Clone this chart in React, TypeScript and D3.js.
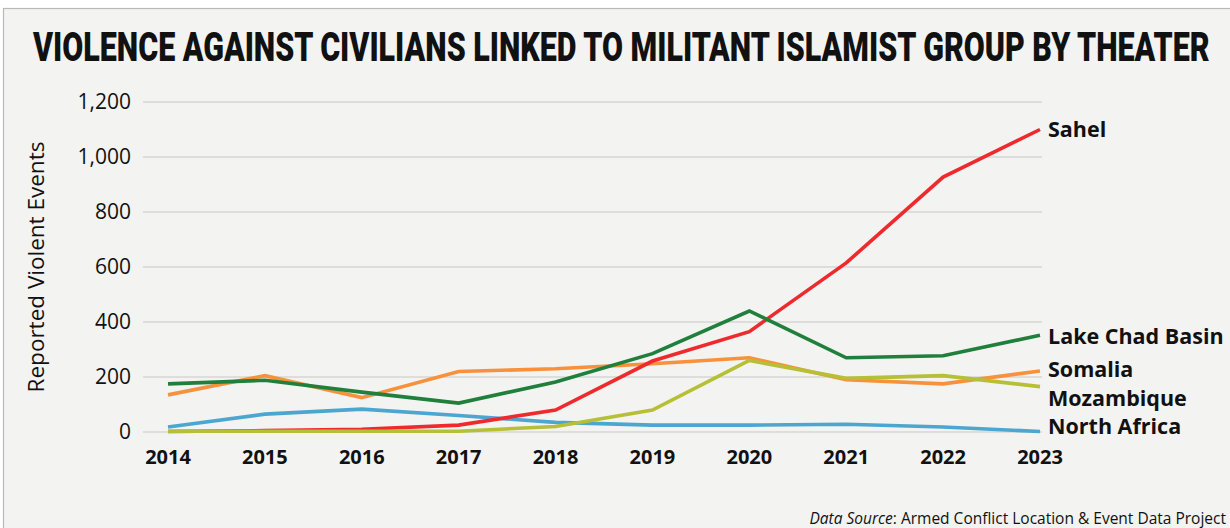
import React, { useEffect, useRef } from 'react';
import * as d3 from 'd3';

const years = [2014, 2015, 2016, 2017, 2018, 2019, 2020, 2021, 2022, 2023];
const sahel = [2, 5, 10, 25, 80, 258, 365, 615, 927, 1100];
const lakeChad = [175, 188, 145, 105, 182, 285, 440, 270, 277, 352];
const somalia = [135, 205, 125, 220, 230, 248, 270, 190, 175, 222];
const mozambique = [3, 3, 3, 3, 20, 80, 260, 195, 205, 165];
const northAfrica = [18, 65, 83, 60, 35, 25, 25, 28, 18, 2];
const yTicks = [0, 200, 400, 600, 800, 1000, 1200];

interface Series {
  name: string;
  values: number[];
  color: string;
  labelDy: number; // nudge for the end label
}

const series: Series[] = [
  { name: 'North Africa', values: northAfrica, color: '#4ba7d0', labelDy: -5 },
  { name: 'Somalia', values: somalia, color: '#f7913b', labelDy: -2 },
  { name: 'Sahel', values: sahel, color: '#ee2a2d', labelDy: -1 },
  { name: 'Lake Chad Basin', values: lakeChad, color: '#1f7f3b', labelDy: 1 },
  { name: 'Mozambique', values: mozambique, color: '#b6bf35', labelDy: 11 },
];

const W = 1230;
const H = 528;

const Chart: React.FC = () => {
  const ref = useRef<SVGSVGElement>(null);

  useEffect(() => {
    if (!ref.current) return;
    const svg = d3.select(ref.current);
    svg.selectAll('*').remove();

    svg.append('rect').attr('width', W).attr('height', H).attr('fill', '#ffffff');
    svg.append('rect')
      .attr('x', 3.5).attr('y', 8.5)
      .attr('width', W).attr('height', H)
      .attr('fill', '#f3f3f2')
      .attr('stroke', '#b9b9b9')
      .attr('stroke-width', 1.2);

    // title, squeezed horizontally to the reference width
    const tg = svg.append('g');
    const title = tg.append('text')
      .attr('x', 0).attr('y', 0)
      .style('font-family', '"Roboto", sans-serif')
      .style('font-weight', 900)
      .style('font-size', '41px')
      .style('fill', '#111')
      .text('VIOLENCE AGAINST CIVILIANS LINKED TO MILITANT ISLAMIST GROUP BY THEATER');
    const tw = (title.node() as SVGTextElement).getComputedTextLength();
    tg.attr('transform', `translate(33,61) scale(${1177 / tw},1)`);

    const x = d3.scalePoint<number>().domain(years).range([168, 1040]);
    const y = d3.scaleLinear().domain([0, 1200]).range([432, 102]);

    const font = '"Open Sans", "Noto Sans", sans-serif';

    // grid
    svg.append('g').selectAll('line')
      .data(yTicks)
      .enter().append('line')
      .attr('x1', 143).attr('x2', 1042)
      .attr('y1', d => y(d)).attr('y2', d => y(d))
      .attr('stroke', '#d6d6d4')
      .attr('stroke-width', 1.5);

    svg.append('g').selectAll('text')
      .data(yTicks)
      .enter().append('text')
      .attr('x', 131)
      .attr('y', d => y(d) + 7)
      .attr('text-anchor', 'end')
      .style('font-family', font)
      .style('font-size', '21px')
      .style('fill', '#111')
      .text(d => d3.format(',')(d));

    svg.append('g').selectAll('text')
      .data(years)
      .enter().append('text')
      .attr('x', d => x(d)!)
      .attr('y', 464)
      .attr('text-anchor', 'middle')
      .style('font-family', font)
      .style('font-weight', 700)
      .style('font-size', '20px')
      .style('fill', '#111')
      .text(d => String(d));

    svg.append('text')
      .attr('transform', 'translate(44,267) rotate(-90)')
      .attr('text-anchor', 'middle')
      .style('font-family', font)
      .style('font-size', '22.5px')
      .style('fill', '#111')
      .text('Reported Violent Events');

    const line = d3.line<number>()
      .x((_, i) => x(years[i])!)
      .y(d => y(d));

    svg.append('g').selectAll('path')
      .data(series)
      .enter().append('path')
      .attr('d', d => line(d.values))
      .attr('fill', 'none')
      .attr('stroke', d => d.color)
      .attr('stroke-width', 3.6)
      .attr('stroke-linejoin', 'miter');

    svg.append('g').selectAll('text')
      .data(series)
      .enter().append('text')
      .attr('x', 1048)
      .attr('y', d => y(d.values[d.values.length - 1]) + 8 + d.labelDy)
      .style('font-family', font)
      .style('font-weight', 700)
      .style('font-size', '21.5px')
      .style('fill', '#111')
      .text(d => d.name);

    const src = svg.append('text')
      .attr('x', 1226).attr('y', 524)
      .attr('text-anchor', 'end')
      .style('font-family', font)
      .style('font-size', '15.5px')
      .style('fill', '#111');
    src.append('tspan').style('font-style', 'italic').text('Data Source');
    src.append('tspan').text(': Armed Conflict Location & Event Data Project');
  }, []);

  return <svg ref={ref} width={W} height={H} style={{ position: 'absolute', left: 0, top: 0 }} />;
};

export default function App() {
  return (
    <div>
      <Chart />
    </div>
  );
}
